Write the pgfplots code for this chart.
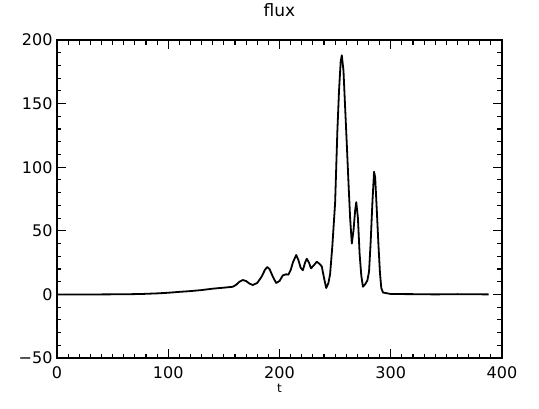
\documentclass[border=0pt]{standalone}
\usepackage{fontspec}
\setmainfont{DejaVu Sans}
\usepackage{pgfplots}
\pgfplotsset{compat=1.18}

\pgfplotstableread{
t flux
0 0
20 0
40 0
60 0.1
75 0.3
90 0.8
100 1.3
110 2.0
120 2.6
130 3.4
140 4.5
150 5.3
158 6.0
161 7.5
164 10
167 11.3
170 10.5
173 8.5
176 7.4
180 9
184 14
187 19.5
189 21.5
191 20
194 14
197 9
200 10.5
203 15
206 15.8
208 15.5
210 19
212 25
215 31
217 27
219 21
221 19
223 25
224.5 28
226.5 25
228.3 20.5
231 23
233.5 25.7
236 24
238 22
240 13
242 5
244 9
245.5 16
247.5 38
250 72
252 128
253.5 160
255 183
256 188
257.5 176
259 147
260.5 118
262 88
263.5 60
265 40
266.5 50
268 66
269 72.5
270.5 60
272 32
273.5 15
275 6
277 8
279 11
280.5 18
282 42
283.5 72
285 96.5
286 92
287.3 69
289 38
290.3 17
291.5 5
293 1.5
296 1
300 0.3
320 0.2
340 0
360 0.2
388 0
}\fluxtable

\begin{document}
\fontsize{16}{19}\selectfont
\begin{tikzpicture}
\path[use as bounding box] (-57pt,-50pt) rectangle (482pt,358pt);
\begin{axis}[
    at={(0pt,0pt)}, anchor=south west,
    width=445pt, height=318pt, scale only axis,
    xmin=0, xmax=400,
    ymin=-50, ymax=200,
    xtick={0,100,200,300,400},
    minor x tick num=9,
    ytick={-50,0,50,100,150,200},
    yticklabels={−50,0,50,100,150,200},
    minor y tick num=4,
    tick align=inside,
    major tick length=9pt,
    minor tick length=4.5pt,
    tick style={black, line width=1.1pt},
    axis line style={line width=1.5pt},
    /pgf/number format/assume math mode=true,
    xticklabel style={anchor=base, yshift=-20pt},
    yticklabel style={xshift=1pt},
    title={flux},
    title style={at={(0.5,1)}, anchor=base, yshift=18pt, font=\fontsize{17}{20}\selectfont},
    xlabel={t},
    xlabel style={at={(0.5,0)}, anchor=base, yshift=-34pt, font=\fontsize{12}{14}\selectfont},
]
\addplot[black, line width=1.8pt, line join=round] table[x=t, y=flux] {\fluxtable};
\end{axis}
\end{tikzpicture}
\end{document}
